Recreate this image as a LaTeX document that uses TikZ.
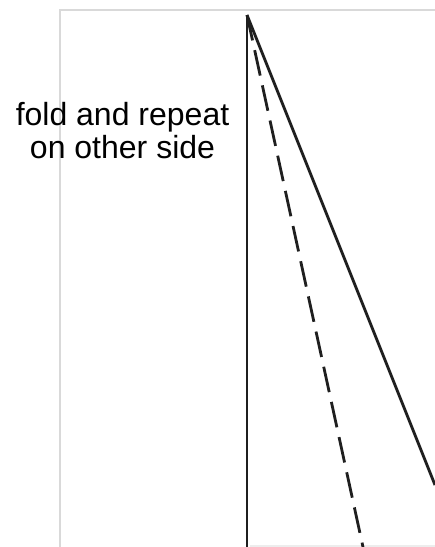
\documentclass[tikz,border=0pt]{standalone}
\usepackage{fontspec}
\setmainfont{Liberation Sans}
\usetikzlibrary{positioning}
\begin{document}
\begin{tikzpicture}[x=0.75pt,y=-0.75pt,
		fold/.style={line width=2.1pt, black!88},
		crease/.style={fold, dash pattern=on 19.5pt off 7.5pt},
		frame/.style={line width=1.7pt, black!15}]
			\useasboundingbox (0,0) rectangle (435,547);
			% page outline
			\draw [frame] (60,547) -- (60,10) -- (435,10);
			\draw [frame, line width=0.8pt, black!7] (250,546) -- (435,546);
			
			\coordinate (apex) at (247,15);
			\coordinate (foot) at (247,547);
			\coordinate (edge) at (435,485);
			\coordinate (hem) at (363,547);
			
			\draw [fold] (apex) -- (foot);
			\draw [fold] (apex) -- (edge);
			\draw [crease] (apex) -- (hem);
			
			\node [font=\fontsize{24pt}{24.75pt}\selectfont, align=center, anchor=north, inner sep=0pt] (hint) at (122.5,102.5) {fold and repeat\\on other side};
		\end{tikzpicture}
\end{document}
